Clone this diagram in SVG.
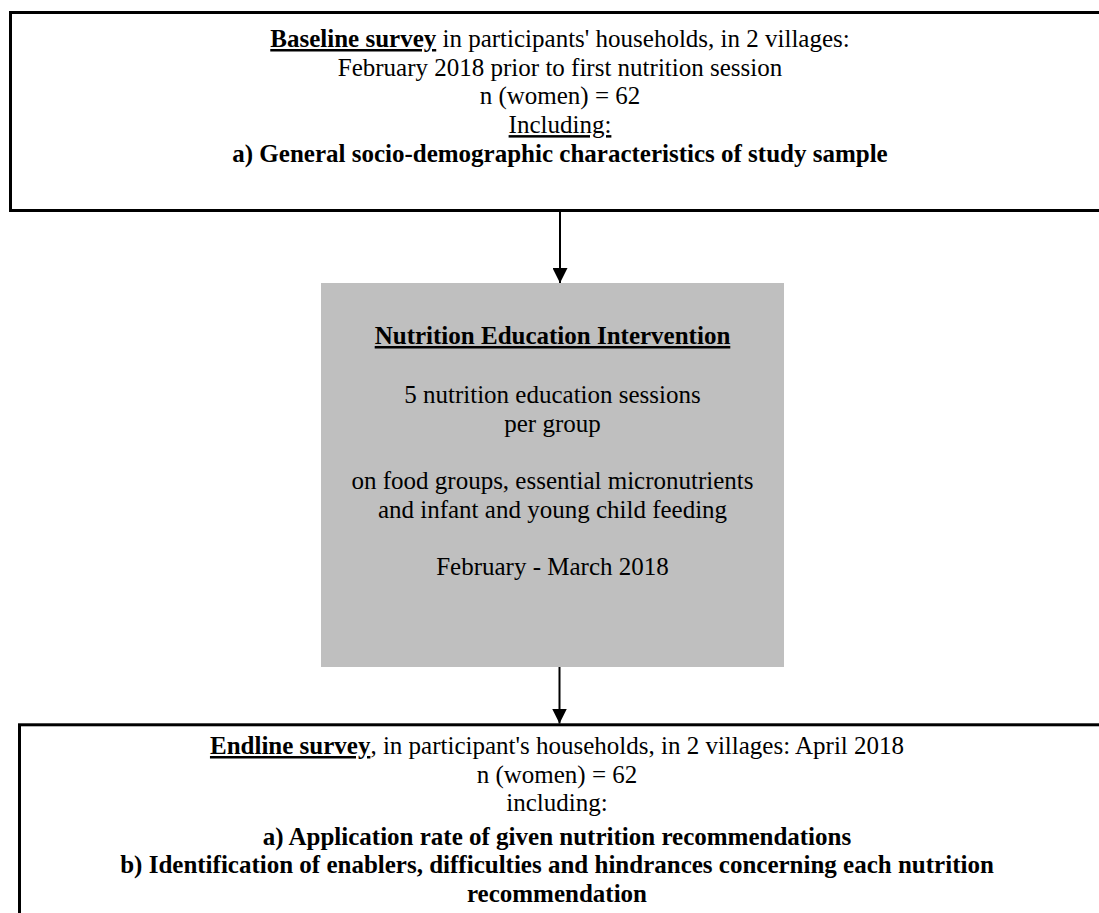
<svg xmlns="http://www.w3.org/2000/svg" width="1099" height="913" viewBox="0 0 1099 913">
<style>
.box{fill:#ffffff;stroke:#000000;stroke-width:3}
.grey{fill:#bfbfbf;stroke:none}
.t{font-family:"Liberation Serif","Times New Roman",serif;font-size:25px;fill:#000;text-anchor:middle}
.b{font-weight:bold}
.u{text-decoration:underline}
.conn{stroke:#000;stroke-width:2;fill:none}
</style>
<defs>
<marker id="ah" markerWidth="15" markerHeight="15" viewBox="0 0 15 15" refX="15" refY="7.5" orient="auto" markerUnits="userSpaceOnUse">
<path d="M0,0 L15,7.5 L0,15 Z" fill="#000"/>
</marker>
</defs>
<rect width="1099" height="913" fill="#ffffff"/>
<g id="baseline">
<rect class="box" x="10.5" y="12.5" width="1100" height="198"/>
<text class="t" x="560" y="47"><tspan class="b u">Baseline survey</tspan> in participants' households, in 2 villages:</text>
<text class="t" x="560" y="75.7">February 2018 prior to first nutrition session</text>
<text class="t" x="560" y="104.4">n (women) = 62</text>
<text class="t" x="560" y="133.1"><tspan class="u">Including:</tspan></text>
<text class="t b" x="560" y="161.8">a) General socio-demographic characteristics of study sample</text>
</g>
<g id="intervention">
<rect class="grey" x="321" y="283" width="463" height="384"/>
<text class="t b u" x="552.5" y="344">Nutrition Education Intervention</text>
<text class="t" x="552.5" y="403">5 nutrition education sessions</text>
<text class="t" x="552.5" y="431.7">per group</text>
<text class="t" x="552.5" y="489">on food groups, essential micronutrients</text>
<text class="t" x="552.5" y="517.7">and infant and young child feeding</text>
<text class="t" x="552.5" y="575">February - March 2018</text>
</g>
<g id="endline">
<rect class="box" x="19.5" y="724.8" width="1100" height="220"/>
<text class="t" x="557" y="754"><tspan class="b u">Endline survey</tspan>, in participant's households, in 2 villages: April 2018</text>
<text class="t" x="557" y="783">n (women) = 62</text>
<text class="t" x="557" y="811">including:</text>
<text class="t b" x="557" y="845">a) Application rate of given nutrition recommendations</text>
<text class="t b" x="557" y="873">b) Identification of enablers, difficulties and hindrances concerning each nutrition</text>
<text class="t b" x="557" y="902">recommendation</text>
</g>
<g id="connectors">
<line class="conn" x1="560" y1="212" x2="560" y2="283" marker-end="url(#ah)"/>
<line class="conn" x1="559.5" y1="667" x2="559.5" y2="723.5" marker-end="url(#ah)"/>
</g>
</svg>
